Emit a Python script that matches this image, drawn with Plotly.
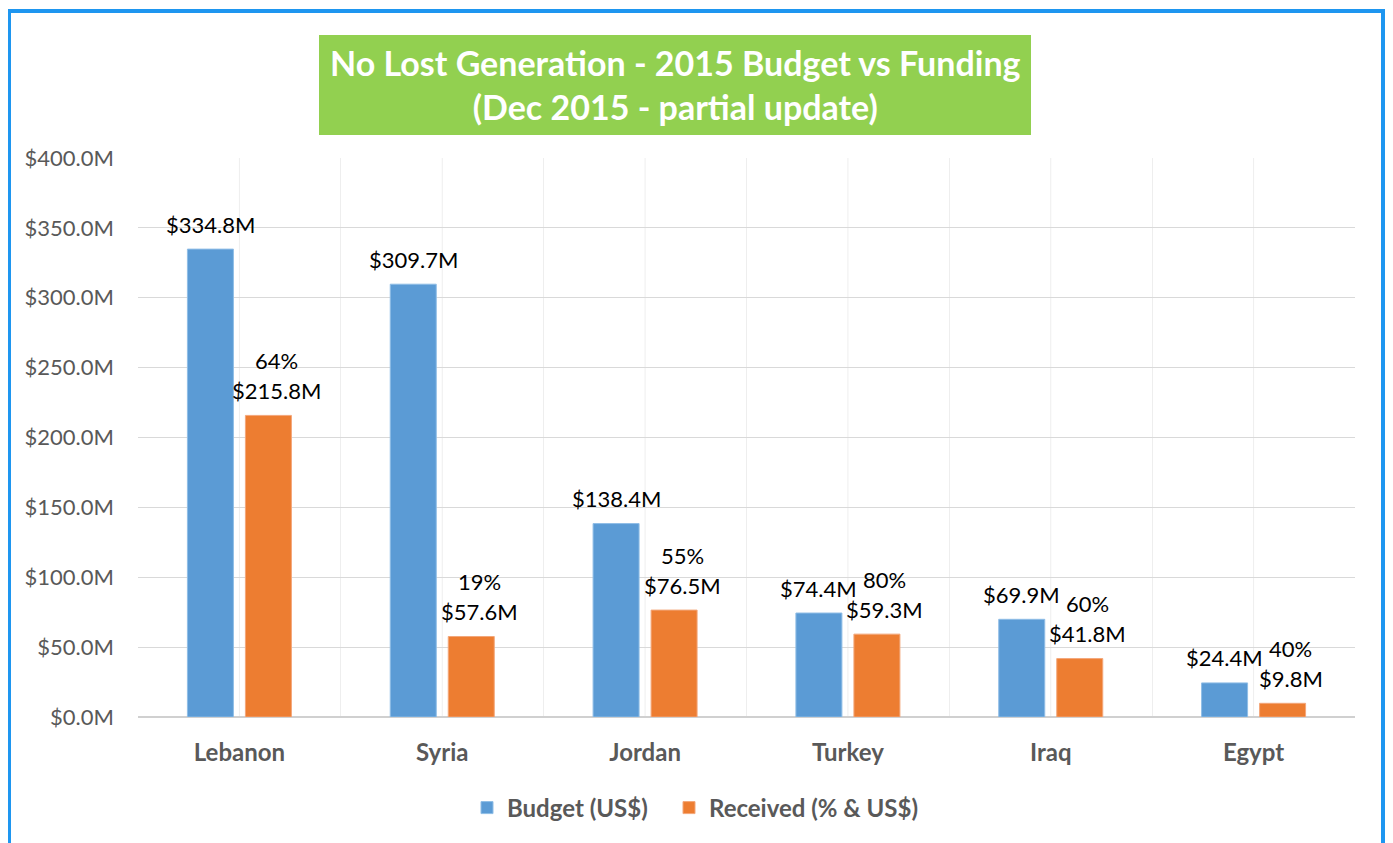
import plotly.graph_objects as go

countries = ["Lebanon", "Syria", "Jordan", "Turkey", "Iraq", "Egypt"]
budget = [334.8, 309.7, 138.4, 74.4, 69.9, 24.4]        # US$ millions
received = [215.8, 57.6, 76.5, 59.3, 41.8, 9.8]         # US$ millions
y_ticks = [0, 50, 100, 150, 200, 250, 300, 350, 400]
y_tick_labels = [f"${v:.1f}M" for v in y_ticks]

BLUE = "#5b9bd5"
ORANGE = "#ed7d31"
FONT = "Lato"

# page is offset by the 8px default body margin
OFF = 8
W, H = 1393 - 2 * OFF, 843 - OFF
PL, PR, PT, PB = 138, 1355, 158, 717          # plot area in page pixels
L, T = PL - OFF, PT - OFF
R = W - (PR - OFF)
B = H - (PB - OFF)
pw, ph = PR - PL, PB - PT

def px_x(x):
    return (x - PL) / pw

def px_y(y):
    return (PB - y) / ph

fig = go.Figure()
fig.add_trace(go.Bar(
    x=countries, y=budget, name="Budget (US$)", legend="legend",
    marker=dict(color=BLUE, line=dict(color="#8fbde6", width=1)),
    cliponaxis=False,
))
fig.add_trace(go.Bar(
    x=countries, y=received, name="Received (% & US$)", legend="legend2",
    marker=dict(color=ORANGE, line=dict(color="#f3a77a", width=1)),
    cliponaxis=False,
))

label_font = dict(family=FONT, size=22, color="#000000")
annotations = []
for c, b, r in zip(countries, budget, received):
    pct = round(r / b * 100)
    annotations.append(dict(x=c, y=b, xref="x", yref="y", text=f"${b:.1f}M",
                            showarrow=False, xshift=-29, yshift=25, yanchor="middle",
                            font=label_font))
    annotations.append(dict(x=c, y=r, xref="x", yref="y", text=f"${r:.1f}M",
                            showarrow=False, xshift=37, yshift=25, yanchor="middle",
                            font=label_font))
    annotations.append(dict(x=c, y=r, xref="x", yref="y", text=f"{pct}%",
                            showarrow=False, xshift=37, yshift=55, yanchor="middle",
                            font=label_font))

annotations.append(dict(
    x=px_x(675), y=px_y(85), xref="paper", yref="paper",
    text="No Lost Generation - 2015 Budget vs Funding<br>(Dec 2015 - partial update)",
    showarrow=False, xanchor="center", yanchor="middle",
    font=dict(family=FONT, size=34, color="#ffffff", weight="bold"),
))

shapes = [
    # outer blue frame
    dict(type="rect", xref="paper", yref="paper",
         x0=px_x(9), x1=px_x(1383), y0=px_y(870), y1=px_y(11),
         line=dict(color="#1e96f0", width=4), fillcolor="rgba(0,0,0,0)", layer="below"),
    # green title box
    dict(type="rect", xref="paper", yref="paper",
         x0=px_x(319), x1=px_x(1031), y0=px_y(135), y1=px_y(35),
         line=dict(width=0), fillcolor="#92d050", layer="below"),
]
# gridlines at category centres (Excel minor gridlines)
for c in countries:
    shapes.append(dict(type="line", xref="x", yref="y", x0=c, x1=c, y0=0, y1=400,
                       line=dict(color="#eeeeee", width=1), layer="below"))

legend_font = dict(family=FONT, size=24, color="#595959", weight="bold")
fig.update_layout(
    width=W, height=H,
    margin=dict(l=L, r=R, t=T, b=B, autoexpand=False),
    paper_bgcolor="#ffffff", plot_bgcolor="#ffffff",
    barmode="group", bargap=0.428, bargroupgap=0.207,
    font=dict(family=FONT, color="#595959"),
    showlegend=True,
    legend=dict(orientation="h", x=px_x(467), xanchor="left", y=px_y(808), yanchor="middle",
                font=legend_font, itemwidth=30),
    legend2=dict(orientation="h", x=px_x(669), xanchor="left", y=px_y(808), yanchor="middle",
                 font=legend_font, itemwidth=30),
    annotations=annotations,
    shapes=shapes,
)
fig.update_xaxes(
    tickson="boundaries", showgrid=True, gridcolor="#eeeeee", gridwidth=1,
    showline=False, ticks="", ticklabelstandoff=19,
    tickfont=dict(family=FONT, size=24, color="#595959", weight="bold"),
)
fig.update_yaxes(
    range=[0, 400], tickmode="array", tickvals=y_ticks, ticktext=y_tick_labels,
    showgrid=True, gridcolor="#d9d9d9", gridwidth=1,
    zeroline=True, zerolinecolor="#d0d0d0", zerolinewidth=2,
    ticks="", ticklabelstandoff=23,
    tickfont=dict(family=FONT, size=22, color="#595959"),
)

fig.write_html("out.html")
